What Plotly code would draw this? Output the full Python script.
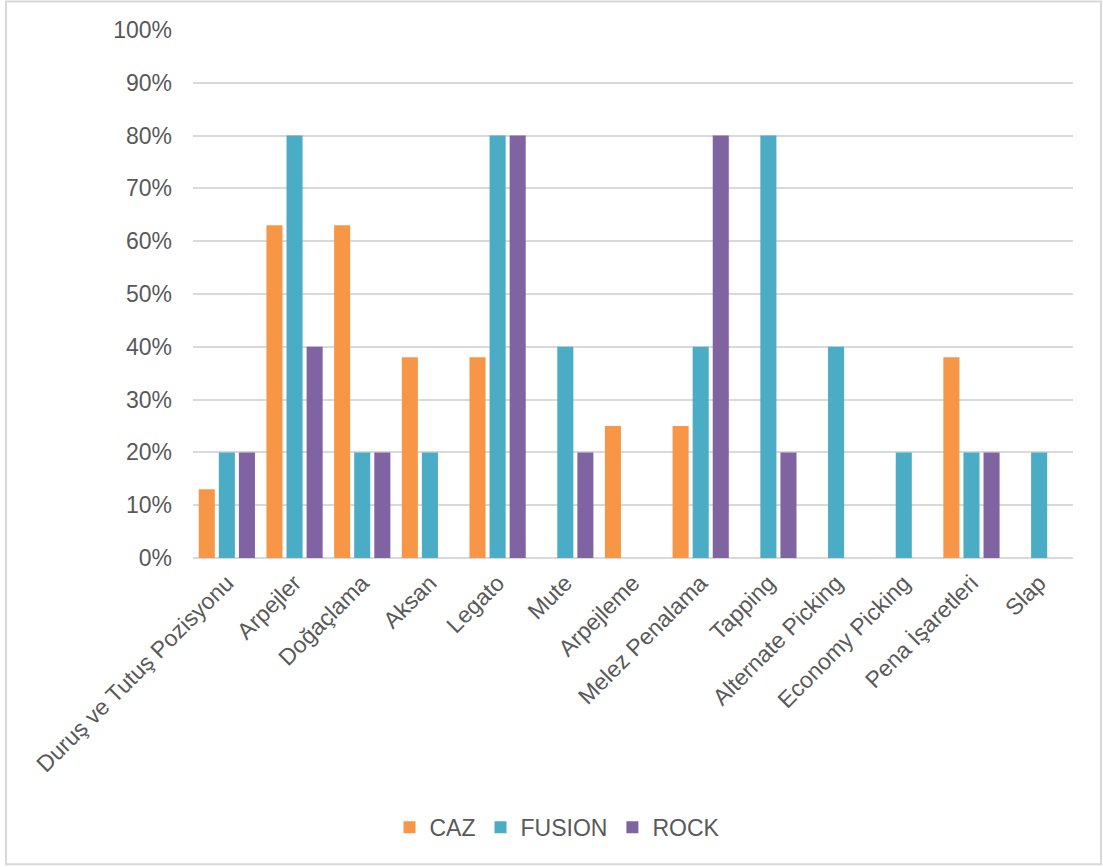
import plotly.graph_objects as go

categories = [
    "Duruş ve Tutuş Pozisyonu", "Arpejler", "Doğaçlama", "Aksan", "Legato",
    "Mute", "Arpejleme", "Melez Penalama", "Tapping", "Alternate Picking",
    "Economy Picking", "Pena İşaretleri", "Slap",
]
caz = [13, 63, 63, 38, 38, 0, 25, 25, 0, 0, 0, 38, 0]
fusion = [20, 80, 20, 20, 80, 40, 0, 40, 80, 40, 20, 20, 20]
rock = [20, 40, 20, 0, 80, 20, 0, 80, 20, 0, 0, 20, 0]

series = [
    ("CAZ", caz, "#F79646"),
    ("FUSION", fusion, "#4BACC6"),
    ("ROCK", rock, "#8064A2"),
]

FONT = "Liberation Sans, Arial, Helvetica, sans-serif"
TXT = "#595959"

fig = go.Figure()
for name, vals, color in series:
    fig.add_trace(go.Bar(
        name=name, x=categories, y=vals,
        marker=dict(color=color, line=dict(width=0)),
    ))

# plot area in pixels: x 193..1073, y 30..558.5
W, H = 1103, 867
L, R, T, B = 193, 1073, 30, 558.5
pw, ph = R - L, B - T

def px(x):
    return (x - L) / pw

def py(y):
    return (B - y) / ph

fig.update_layout(
    width=W, height=H,
    margin=dict(l=L, r=W - R, t=T, b=H - B, autoexpand=False),
    paper_bgcolor="white", plot_bgcolor="white",
    barmode="group", bargap=0.11, bargroupgap=0.2,
    font=dict(family=FONT, size=23, color=TXT),
    showlegend=True,
    legend=dict(
        orientation="h", x=px(557), xanchor="center",
        y=py(828), yanchor="middle",
        font=dict(family=FONT, size=23, color=TXT),
        itemwidth=30, tracegroupgap=0,
    ),
    xaxis=dict(
        tickangle=-45, showgrid=False, showline=False, ticks="",
        ticklabelstandoff=6,
        tickfont=dict(family=FONT, size=23, color=TXT),
    ),
    yaxis=dict(
        range=[0, 100], dtick=10, ticksuffix="%",
        showgrid=True, gridcolor="#D9D9D9", gridwidth=1.5,
        zeroline=True, zerolinecolor="#D9D9D9", zerolinewidth=2,
        showline=False, ticks="", ticklen=0, ticklabelstandoff=20,
        tickfont=dict(family=FONT, size=23, color=TXT),
    ),
    shapes=[dict(
        type="rect", xref="paper", yref="paper",
        x0=px(6), x1=px(1101), y0=py(865), y1=py(1.5),
        line=dict(color="#D9D9D9", width=2), fillcolor="rgba(0,0,0,0)",
        layer="below",
    )],
)

fig.write_html("out.html")
